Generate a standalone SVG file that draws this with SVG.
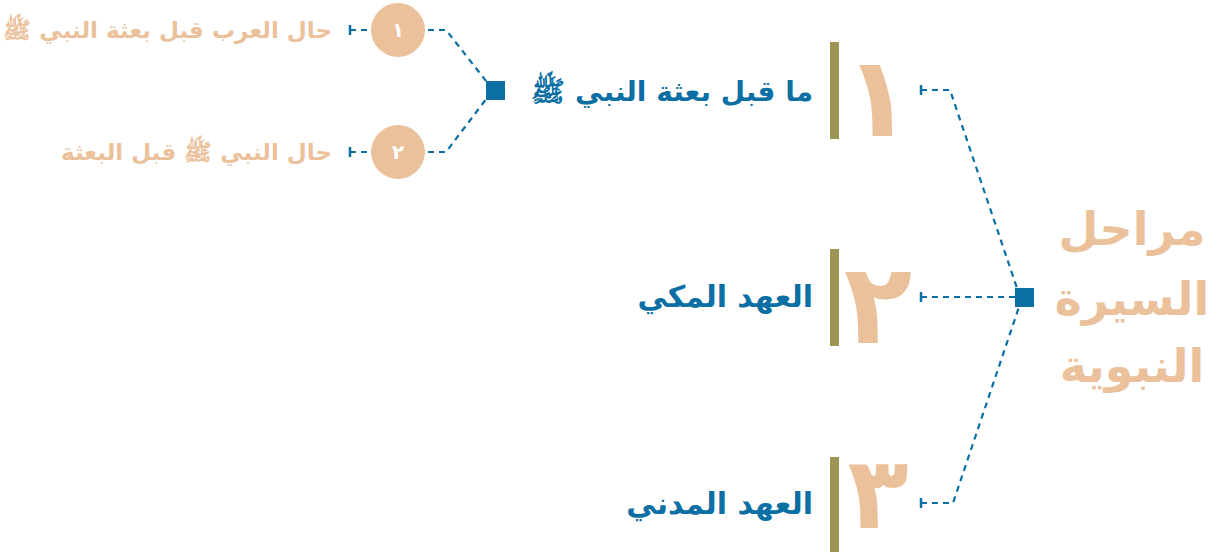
<svg xmlns="http://www.w3.org/2000/svg" width="1218" height="552" viewBox="0 0 1218 552">
<style>
.conn{fill:none;stroke:#0B6FA4;stroke-width:2.2;stroke-dasharray:6 5}
.tick{fill:none;stroke:#0B6FA4;stroke-width:2.5}
.hub{fill:#0B6FA4}
.bar{fill:#9E9554}
.num{font-family:"DejaVu Sans",sans-serif;font-weight:bold;fill:#EBC19C;font-size:112px;text-anchor:middle}
.lbl{font-family:"DejaVu Sans",sans-serif;font-weight:bold;fill:#0B6FA4;font-size:30px;text-anchor:end}
.sub{font-family:"DejaVu Sans",sans-serif;font-weight:bold;fill:#EBC19C;font-size:23px;text-anchor:end}
.title{font-family:"DejaVu Sans",sans-serif;font-weight:bold;fill:#EBC19C;font-size:46px;text-anchor:middle}
.circ{fill:#EBC19C}
.cnum{font-family:"DejaVu Sans",sans-serif;font-weight:bold;fill:#ffffff;font-size:20px;text-anchor:middle}
</style>
<g id="connectors">
<path class="conn" d="M921 90 H950 L1018 291"/>
<path class="tick" d="M921 85 V95"/>
<path class="conn" d="M921 297 H1016"/>
<path class="tick" d="M921 292 V302"/>
<path class="conn" d="M921 503 H953 L1020 304"/>
<path class="tick" d="M921 498 V508"/>
<path class="conn" d="M428 30 H446 L490 86"/>
<path class="conn" d="M428 152 H446 L490 94"/>
<path class="conn" d="M350 30 H371"/>
<path class="tick" d="M350 25 V35"/>
<path class="conn" d="M350 152 H371"/>
<path class="tick" d="M350 147 V157"/>
</g>
<g id="title">
<text class="title" x="1132" y="245">مراحل</text>
<text class="title" x="1132" y="315">السيرة</text>
<text class="title" x="1132" y="382">النبوية</text>
</g>
<g id="hub"><rect class="hub" x="1015" y="288" width="19" height="19"/></g>
<g id="stage1">
<rect class="bar" x="830" y="42" width="9" height="97"/>
<text class="num" x="878" y="136">١</text>
<text class="lbl" x="813" y="101" style="font-size:28px">ما قبل بعثة النبي ﷺ</text>
</g>
<g id="stage2">
<rect class="bar" x="830" y="249" width="9" height="97"/>
<text class="num" x="878" y="343">٢</text>
<text class="lbl" x="813" y="307">العهد المكي</text>
</g>
<g id="stage3">
<rect class="bar" x="830" y="457" width="9" height="95"/>
<text class="num" x="878" y="528" style="font-size:100px">٣</text>
<text class="lbl" x="813" y="514">العهد المدني</text>
</g>
<g id="subhub"><rect class="hub" x="486" y="81" width="19" height="19"/></g>
<g id="sub1">
<circle class="circ" cx="398" cy="30" r="27"/>
<text class="cnum" x="398" y="37">١</text>
<text class="sub" x="332" y="38">حال العرب قبل بعثة النبي ﷺ</text>
</g>
<g id="sub2">
<circle class="circ" cx="398" cy="152" r="27"/>
<text class="cnum" x="398" y="159">٢</text>
<text class="sub" x="332" y="160">حال النبي ﷺ قبل البعثة</text>
</g>
</svg>
